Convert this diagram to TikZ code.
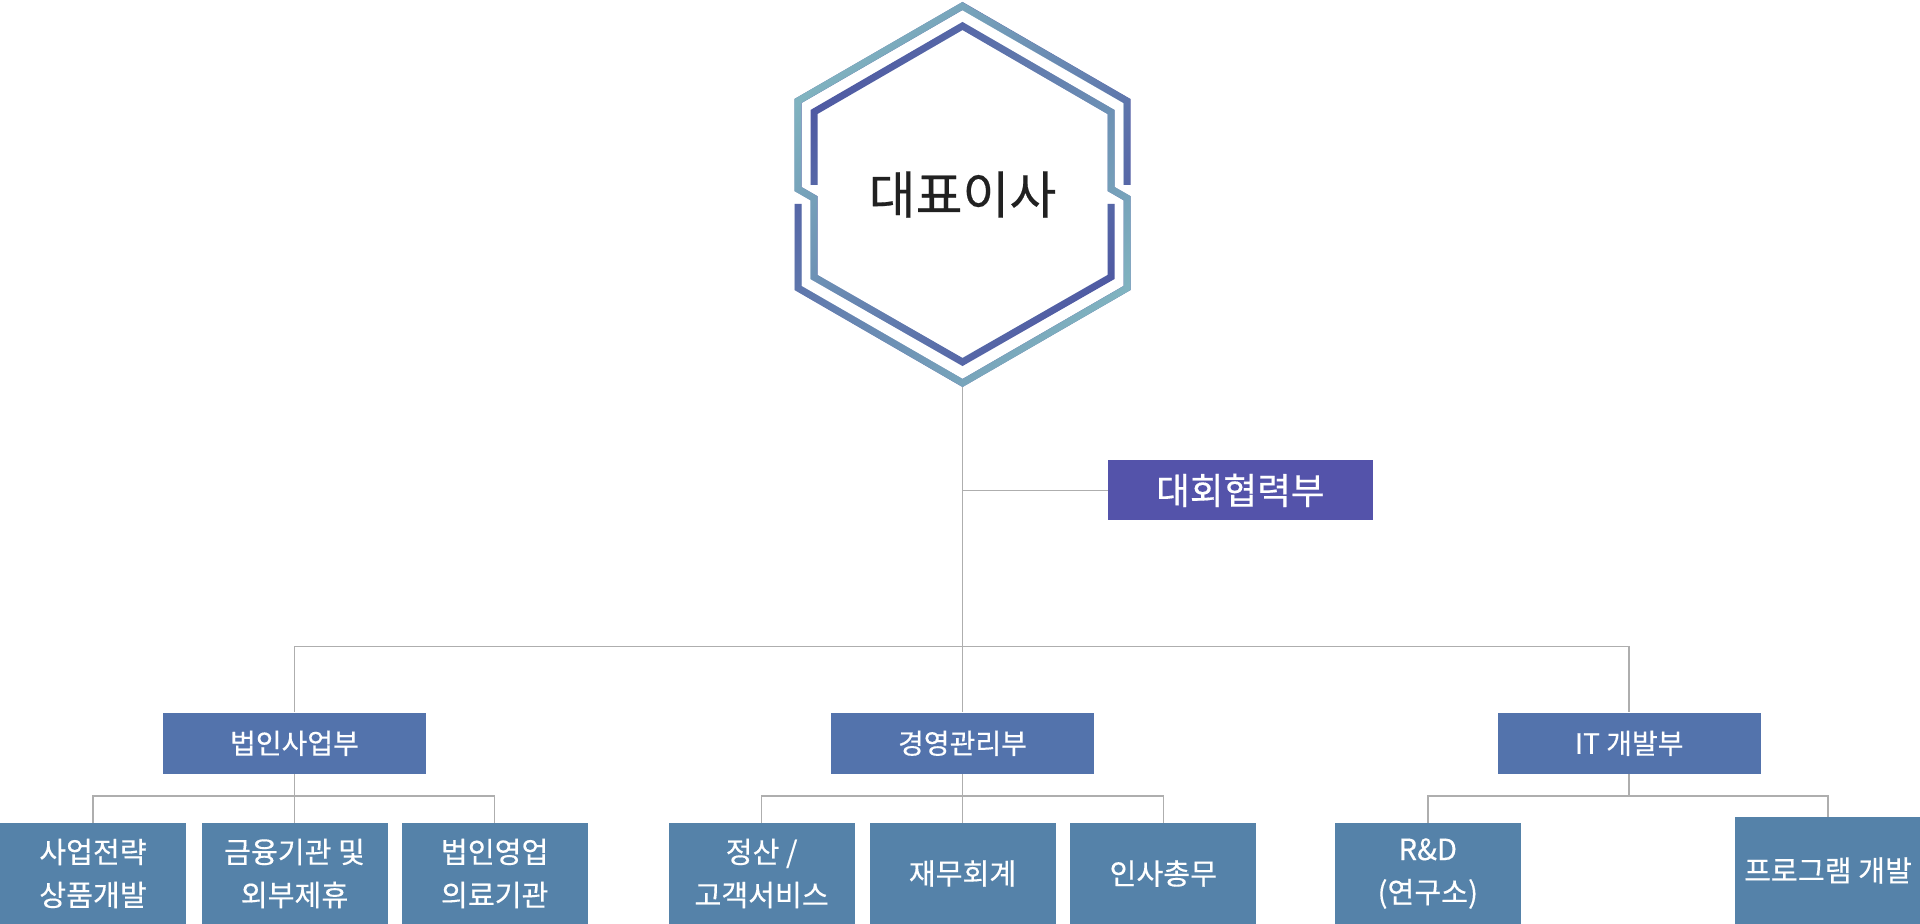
\documentclass[tikz,border=0pt]{standalone}
\usepackage{fontspec}
\setmainfont{Noto Sans CJK KR}
\newfontfamily\medfont{Noto Sans CJK KR}[FakeBold=0.35]
\usepackage{tikz}
\usetikzlibrary{calc, fadings}
\definecolor{HexTeal}{HTML}{80B3C0}
\definecolor{HexBlue}{HTML}{4F5AA3}
\definecolor{DeptBlue}{HTML}{5373AC}
\definecolor{TeamBlue}{HTML}{5582A9}
\definecolor{CoopBlue}{HTML}{5453AA}
\definecolor{LinkGray}{HTML}{AEAEAE}
\tikzfading[name=fade out, left color=transparent!0, right color=transparent!100]
\tikzset{
  ring/.style={line width=3.5pt, line join=miter},
  link/.style={draw=LinkGray, line width=0.75pt},
  coopbox/.style={fill=CoopBlue, text=white, minimum width=132.3pt, minimum height=30pt, inner sep=0pt, font=\medfont\fontsize{18.3}{22}\selectfont},
  deptbox/.style={fill=DeptBlue, text=white, minimum width=131.6pt, minimum height=30.6pt, inner sep=0pt, font=\medfont\fontsize{14}{17}\selectfont},
  teambox/.style={fill=TeamBlue, text=white, minimum width=93pt, minimum height=50.5pt, inner sep=0pt, align=center, font=\medfont\fontsize{14.6}{21.5}\selectfont}
}

\begin{document}
\begin{tikzpicture}[x=0.5pt, y=-0.5pt]
  \useasboundingbox (0,0) rectangle (1920,924);

  \coordinate (hexbot) at (962.5,387);
  \coordinate (bus2) at (962.5,646.5);
  \coordinate (bus3) at (962.5,796);

  % hexagon, two crossing rings
  \def\pathA{(814,185) -- (814,112) -- (962.5,26) -- (1111,112) -- (1111,189) -- (1127,198.2) -- (1127,288) -- (962.5,383) -- (798,288) -- (798,204)}
  \def\pathB{(1127,185) -- (1127,101) -- (962.5,6) -- (798,101) -- (798,189) -- (814,198.2) -- (814,277) -- (962.5,362) -- (1111,277) -- (1111,204)}
  \draw[ring, HexBlue] \pathA;
  \draw[ring, HexTeal, path fading=fade out, fading angle=135] \pathA;
  \draw[ring, HexBlue] \pathB;
  \draw[ring, HexTeal, path fading=fade out, fading angle=-45] \pathB;
  \node[text=black!87, font=\medfont\fontsize{25.5}{30}\selectfont] (ceo) at (962.5,194.5) {대표이사};

  \node[coopbox] (coop) at (1240.4,490.4) {대회협력부};

  \node[deptbox] (corp) at (294.5,743.3) {법인사업부};
  \node[deptbox] (mgmt) at (962.5,743.3) {경영관리부};
  \node[deptbox] (it) at (1629.2,743.3) {IT 개발부};

  \node[teambox] (t1) at (93,873.5) {사업전략\\상품개발};
  \node[teambox] (t2) at (294.5,873.5) {금융기관 및\\외부제휴};
  \node[teambox] (t3) at (494.7,873.5) {법인영업\\의료기관};
  \node[teambox] (t4) at (761.6,873.5) {정산 /\\고객서비스};
  \node[teambox] (t5) at (962.5,873.5) {재무회계};
  \node[teambox] (t6) at (1163.3,873.5) {인사총무};
  \node[teambox] (t7) at (1427.8,873.5) {R\&D\\(연구소)};
  \node[teambox, minimum height=53.5pt] (t8) at (1828,870.5) {프로그램 개발};

  \draw[link] (hexbot) -- (mgmt.north);
  \draw[link] (hexbot |- coop.west) -- (coop.west);
  \draw[link] (corp.north) -- (corp.north |- bus2) -- (it.north |- bus2) -- (it.north);

  \draw[link] (corp.south) -- (t2.north);
  \draw[link] (t1.north) -- (t1.north |- bus3) -- (t3.north |- bus3) -- (t3.north);
  \draw[link] (mgmt.south) -- (t5.north);
  \draw[link] (t4.north) -- (t4.north |- bus3) -- (t6.north |- bus3) -- (t6.north);
  \draw[link] (it.south) -- (it.south |- bus3);
  \draw[link] (t7.north) -- (t7.north |- bus3) -- (t8.north |- bus3) -- (t8.north);

\end{tikzpicture}
\end{document}
